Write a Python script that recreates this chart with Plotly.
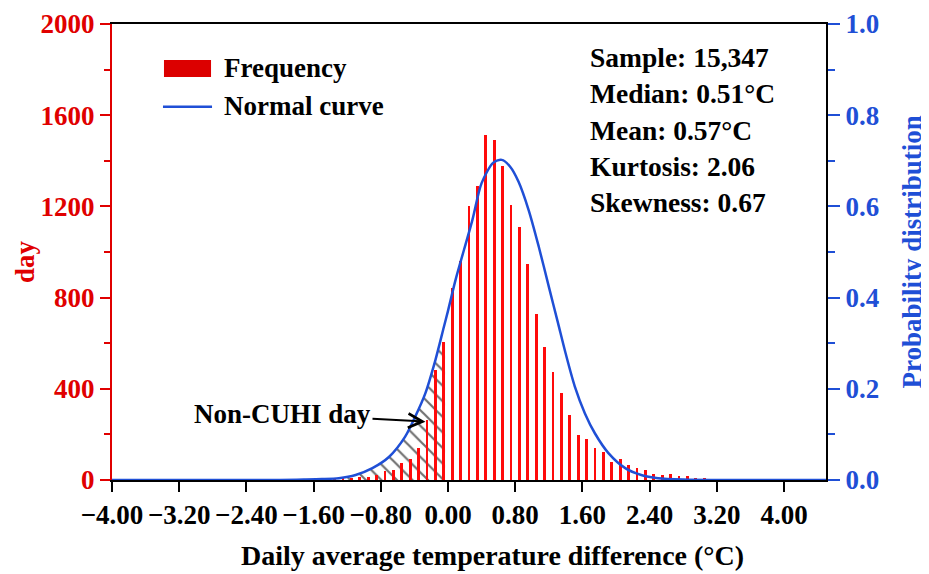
import plotly.graph_objects as go

# ---------------- data ----------------
hist_x = [-1.35, -1.25, -1.15, -1.05, -0.95, -0.85, -0.75, -0.65, -0.55, -0.45,
          -0.35, -0.25, -0.15, -0.05, 0.05, 0.15, 0.25, 0.35, 0.45, 0.55,
          0.65, 0.75, 0.85, 0.95, 1.05, 1.15, 1.25, 1.35, 1.45, 1.55,
          1.65, 1.75, 1.85, 1.95, 2.05, 2.15, 2.25, 2.35, 2.45, 2.55,
          2.65, 2.75, 2.85, 2.95, 3.05, 3.15, 3.25, 3.35]
hist_days = [3, 5, 8, 12, 15, 23, 38, 45, 75, 92,
             142, 262, 481, 604, 841, 960, 1202, 1289, 1515, 1490,
             1377, 1206, 1111, 946, 728, 582, 472, 380, 285, 199,
             181, 140, 123, 80, 91, 64, 51, 44, 27, 21,
             26, 19, 19, 9, 7, 4, 3, 2]

curve_x = [-4.0, -2.0, -1.7, -1.5, -1.3, -1.1, -0.9, -0.7, -0.51, -0.39, -0.27,
           -0.15, -0.05, 0.0, 0.09, 0.29, 0.40, 0.54, 0.64, 0.74, 0.84, 0.96,
           1.08, 1.20, 1.31, 1.40, 1.51, 1.63, 1.75, 1.91, 2.11, 2.30, 2.50,
           2.80, 3.20, 4.5]
curve_p = [0.0, 0.0, 0.001, 0.002, 0.004, 0.011, 0.026, 0.051, 0.095, 0.139, 0.190,
           0.263, 0.335, 0.371, 0.439, 0.570, 0.651, 0.696, 0.702, 0.687, 0.654, 0.592,
           0.512, 0.424, 0.344, 0.278, 0.205, 0.146, 0.102, 0.059, 0.026, 0.011, 0.004,
           0.001, 0.0, 0.0]

# hatched "Non-CUHI day" region (under the curve, left of 0)
hatch_x = [-1.2, -1.1, -0.9, -0.7, -0.51, -0.39, -0.27, -0.15, -0.09, -0.035]
hatch_p = [0.007, 0.011, 0.026, 0.051, 0.095, 0.139, 0.190, 0.263, 0.300, 0.301]

x_ticks = [-4.0, -3.2, -2.4, -1.6, -0.8, 0.0, 0.8, 1.6, 2.4, 3.2, 4.0]
day_ticks = [0, 400, 800, 1200, 1600, 2000]
prob_ticks = [0.0, 0.2, 0.4, 0.6, 0.8, 1.0]

stats_lines = ["Sample: 15,347", "Median: 0.51°C", "Mean: 0.57°C",
               "Kurtosis: 2.06", "Skewness: 0.67"]

# ---------------- styles ----------------
RED = "#e00000"
BAR_RED = "#ff0a0a"
BLUE = "#1f4fd6"
FONT = "Liberation Serif"
FS = 27

fig = go.Figure()

fig.add_trace(go.Scatter(
    x=hatch_x, y=hatch_p, xaxis="x", yaxis="y", mode="lines",
    line=dict(width=0, color="rgba(0,0,0,0)"), fill="tozeroy",
    fillcolor="white",
    fillpattern=dict(shape="\\", fgcolor="#707070", bgcolor="white",
                     fgopacity=1, size=11, solidity=0.2),
    showlegend=False, hoverinfo="skip"))

fig.add_trace(go.Bar(
    x=hist_x, y=hist_days, xaxis="x", yaxis="y2", width=0.035,
    marker=dict(color=BAR_RED, line=dict(width=0)), showlegend=False))

fig.add_trace(go.Scatter(
    x=curve_x, y=curve_p, xaxis="x", yaxis="y3", mode="lines",
    line=dict(color=BLUE, width=2.5, shape="spline", smoothing=0.8),
    showlegend=False))

# the page adds an 8 px body margin, so the figure is 8 px smaller and
# its left/top margins are shifted accordingly
fig.update_layout(
    width=921, height=566,
    margin=dict(l=104, r=103, t=16, b=94, autoexpand=False),
    paper_bgcolor="white", plot_bgcolor="white",
    font=dict(family=FONT, size=FS, color="black"),
    bargap=0,
    xaxis=dict(range=[-4.0, 4.5], tickvals=x_ticks, tickformat=".2f",
               showgrid=False, zeroline=False, showline=True, mirror=True,
               linecolor="black", linewidth=2, ticks="outside", ticklen=10,
               tickwidth=2, tickcolor="black", automargin=False,
               tickfont=dict(family=FONT, size=FS, color="black", weight="bold")),
    yaxis=dict(range=[0, 1], visible=False, fixedrange=True),
    yaxis2=dict(range=[0, 2000], overlaying="y", side="left", tickvals=day_ticks,
                showgrid=False, zeroline=False, showline=True, linecolor=RED,
                linewidth=2, ticks="outside", ticklen=10, tickwidth=2, tickcolor=RED,
                automargin=False,
                minor=dict(dtick=200, ticks="outside", ticklen=6, tickwidth=2,
                           tickcolor=RED, showgrid=False),
                tickfont=dict(family=FONT, size=FS, color=RED, weight="bold")),
    yaxis3=dict(range=[0, 1], overlaying="y", side="right", tickvals=prob_ticks,
                tickformat=".1f", showgrid=False, zeroline=False, showline=True,
                linecolor="black", linewidth=2, ticks="outside", ticklen=12,
                tickwidth=2, tickcolor=BLUE, automargin=False,
                minor=dict(dtick=0.1, ticks="outside", ticklen=7, tickwidth=2,
                           tickcolor=BLUE, showgrid=False),
                tickfont=dict(family=FONT, size=FS, color=BLUE, weight="bold")),
)

def bold(t):
    return "<b>" + t + "</b>"

ann = []
# axis titles
ann.append(dict(text=bold("Daily average temperature difference (°C)"), xref="paper",
                yref="paper", x=0.533, y=-0.1645, xanchor="center", yanchor="middle",
                showarrow=False, font=dict(size=28, color="black")))
ann.append(dict(text=bold("day"), xref="paper", yref="paper", x=-0.1218, y=0.478,
                xanchor="center", yanchor="middle", textangle=-90, showarrow=False,
                font=dict(size=FS, color=RED)))
ann.append(dict(text=bold("Probability distribution"), xref="paper", yref="paper",
                x=1.1204, y=0.501, xanchor="center", yanchor="middle", textangle=-90,
                showarrow=False, font=dict(size=FS, color=BLUE)))
# legend texts
ann.append(dict(text=bold("Frequency"), xref="paper", yref="paper", x=0.154, y=0.9035,
                xanchor="left", yanchor="middle", showarrow=False,
                font=dict(size=FS, color="black")))
ann.append(dict(text=bold("Normal curve"), xref="paper", yref="paper", x=0.154, y=0.82,
                xanchor="left", yanchor="middle", showarrow=False,
                font=dict(size=FS, color="black")))
# statistics
stat_y = [0.927, 0.847, 0.766, 0.688, 0.608]
for t, yy in zip(stats_lines, stat_y):
    ann.append(dict(text=bold(t), xref="paper", yref="paper", x=0.6667, y=yy,
                    xanchor="left", yanchor="middle", showarrow=False,
                    font=dict(size=27.5, color="black")))
# Non-CUHI day arrow
ann.append(dict(text=bold("Non-CUHI day"), xref="x", yref="y2", x=-0.268, y=256,
                ax=-143, ay=-8, showarrow=True, arrowhead=5, arrowsize=1.4,
                arrowwidth=2, arrowcolor="black",
                font=dict(size=FS, color="black")))
fig.update_layout(annotations=ann)

# legend symbols
fig.add_shape(type="rect", xref="paper", yref="paper", x0=0.0728, x1=0.1387,
              y0=0.884, y1=0.921, fillcolor="#dc0000", line=dict(width=0))
fig.add_shape(type="line", xref="paper", yref="paper", x0=0.0714, x1=0.1401,
              y0=0.8187, y1=0.8187, line=dict(color=BLUE, width=2.5))

fig.write_html("out.html")
